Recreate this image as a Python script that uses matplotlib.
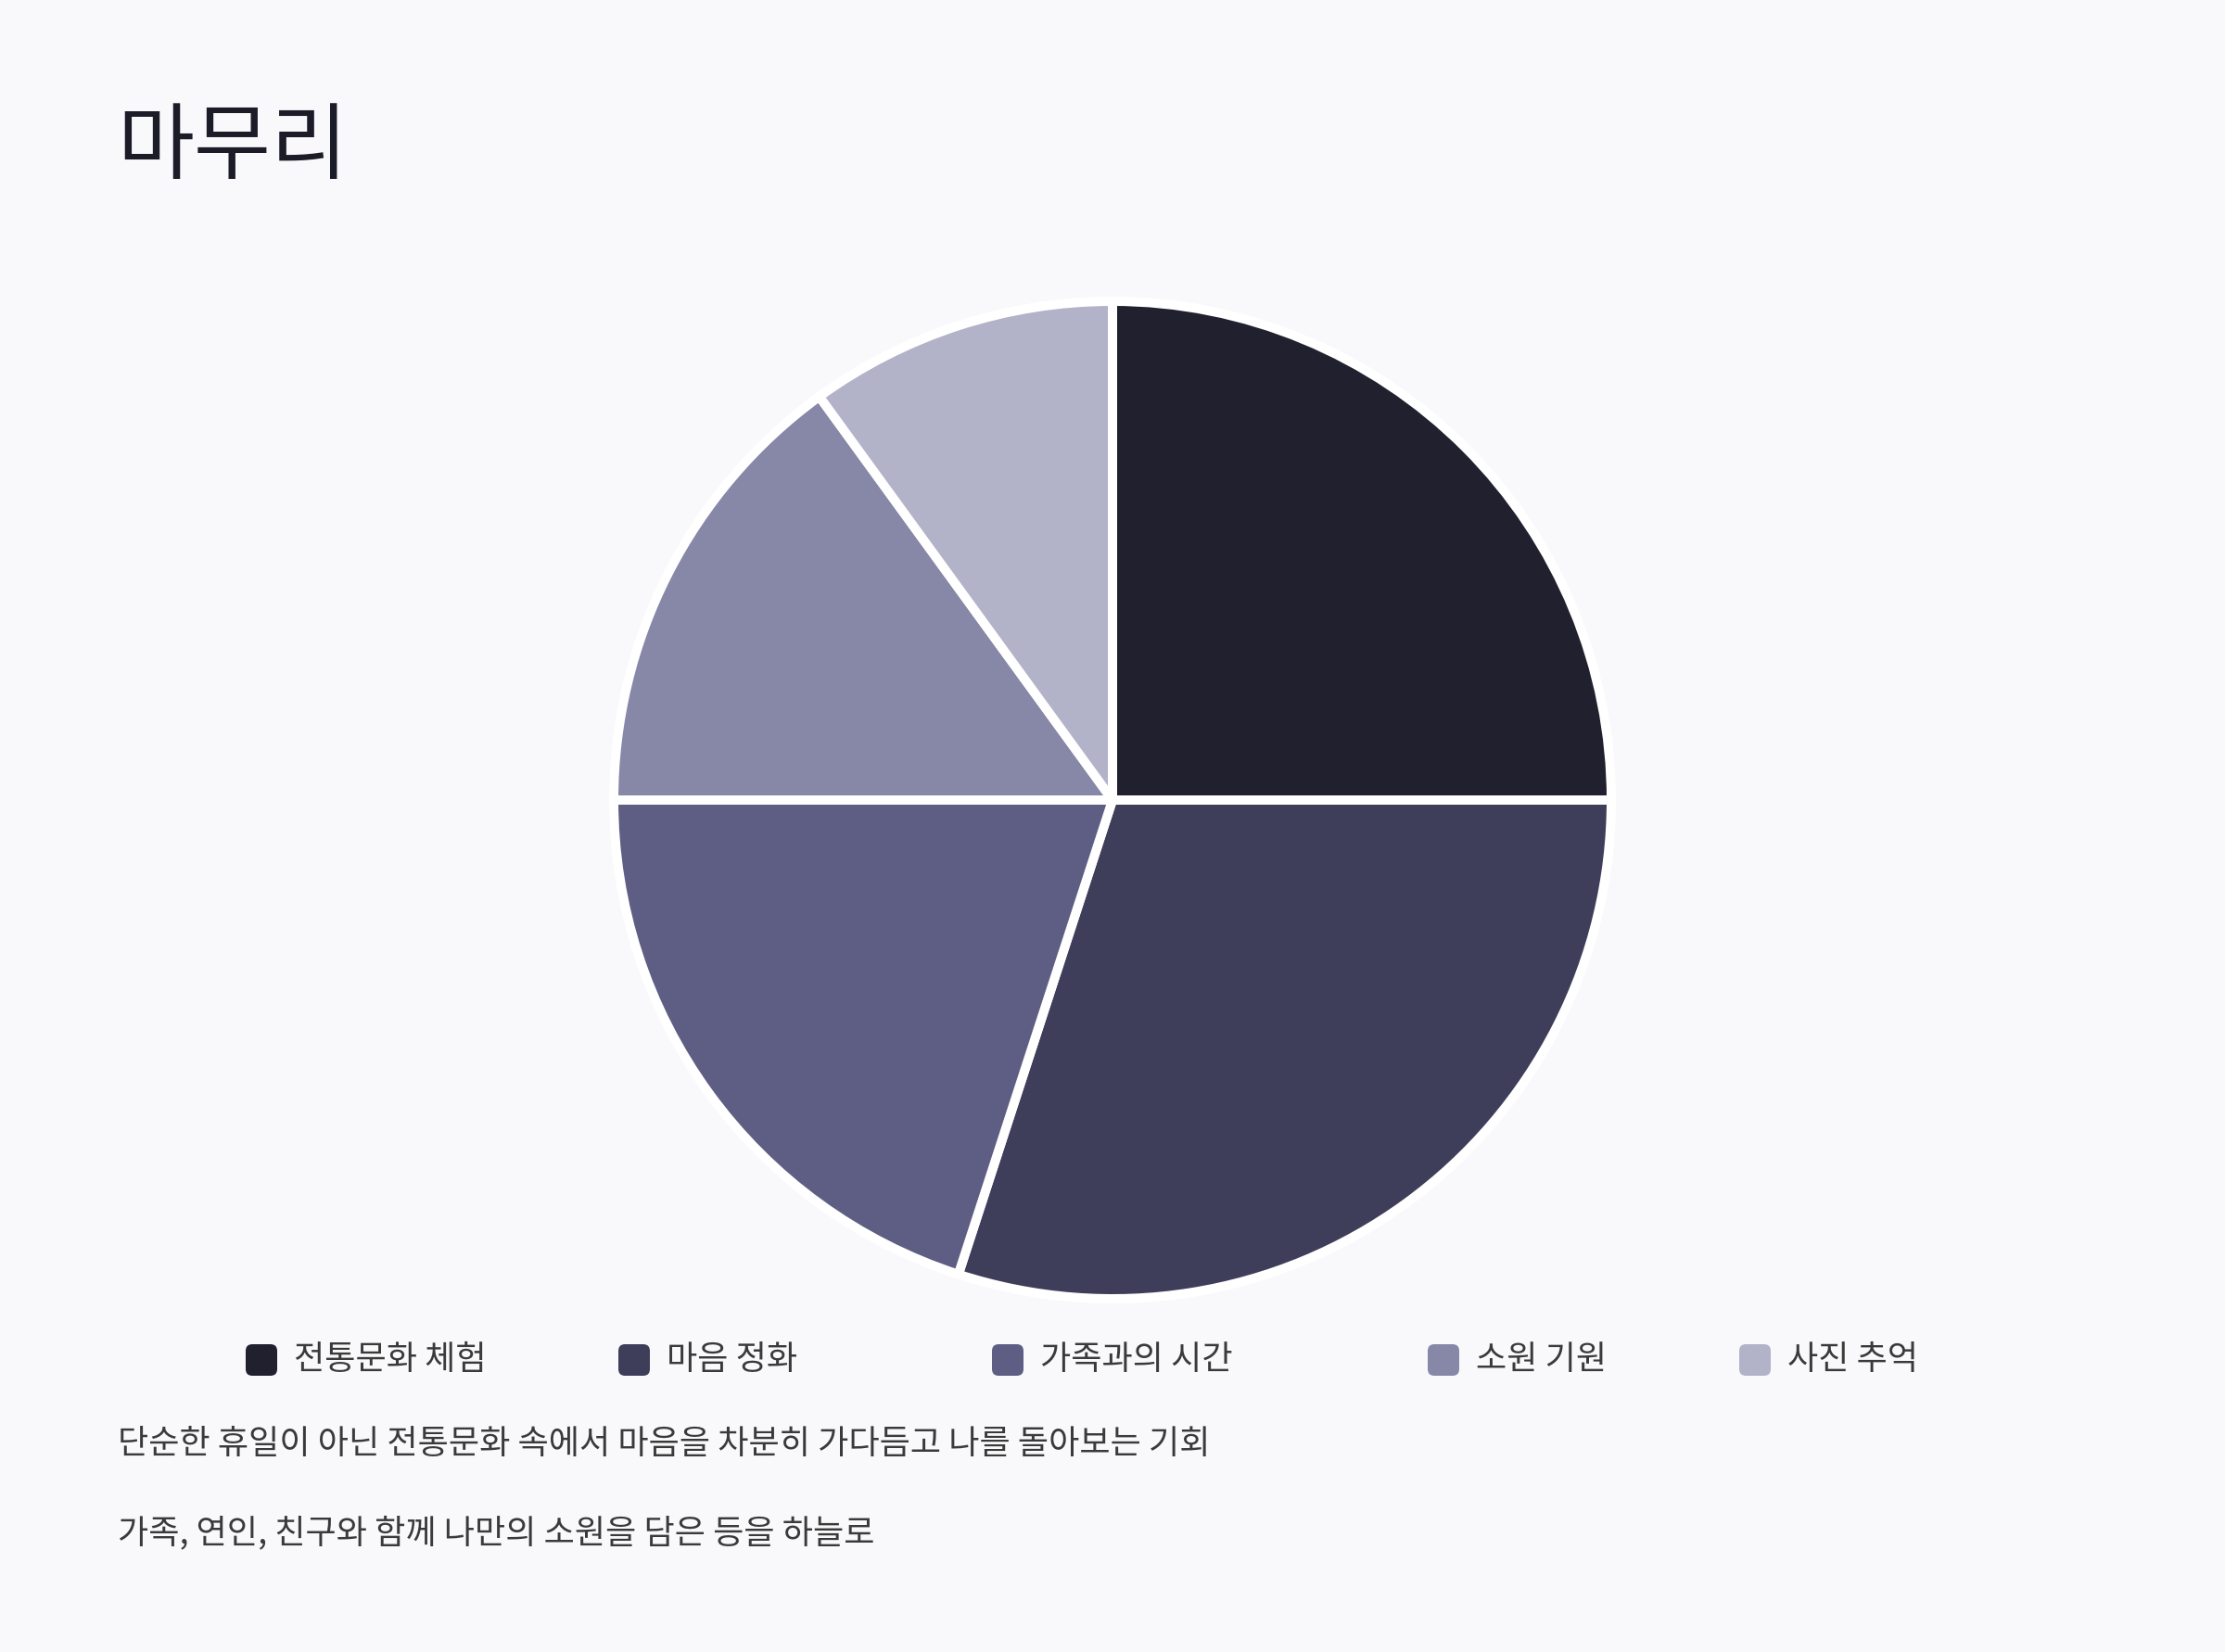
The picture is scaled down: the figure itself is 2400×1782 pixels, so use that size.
import matplotlib
matplotlib.use("Agg")
import matplotlib.pyplot as plt
from matplotlib.patches import FancyBboxPatch

plt.rcParams['font.family'] = ['Noto Sans CJK KR', 'DejaVu Sans']

# ---------------- data ----------------
labels = ["전통문화 체험", "마음 정화", "가족과의 시간", "소원 기원", "사진 추억"]
values = [25, 30, 20, 15, 10]
colors = ["#20202e", "#3e3e5b", "#5e5e84", "#8787a8", "#b2b2c9"]

title = "마무리"
notes = [
    "단순한 휴일이 아닌 전통문화 속에서 마음을 차분히 가다듬고 나를 돌아보는 기회",
    "가족, 연인, 친구와 함께 나만의 소원을 담은 등을 하늘로",
]

# ---------------- figure ----------------
W, H = 2400, 1782
bg = "#f9f9fb"
fig = plt.figure(figsize=(W / 100, H / 100), dpi=100, facecolor=bg)

# pie, centre (1200, 863) px, radius ~538 px
cx, cy, r = 1200, 863, 538
ax = fig.add_axes([(cx - r) / W, (H - cy - r) / H, 2 * r / W, 2 * r / H])
ax.set_facecolor(bg)
ax.pie(values, colors=colors, startangle=90, counterclock=False, radius=1,
       wedgeprops=dict(edgecolor="white", linewidth=7.2, joinstyle="round"))
ax.set_xlim(-1, 1)
ax.set_ylim(-1, 1)
ax.set_aspect("equal")
ax.axis("off")

# title
fig.text(126 / W, 1 - 161 / H, title, fontsize=65, color="#1c1c28",
         ha="left", va="center")

# legend (manual, like the html one)
leg_x = [265, 667, 1070, 1540, 1876]
leg_y = 1467
box = 34
for x, lab, col in zip(leg_x, labels, colors):
    p = FancyBboxPatch(((x) / W, 1 - (leg_y + box / 2) / H), box / W, box / H,
                       boxstyle="round,pad=0,rounding_size=0.003",
                       transform=fig.transFigure, facecolor=col,
                       edgecolor="none", mutation_aspect=W / H)
    fig.patches.append(p)
    fig.text((x + box + 18) / W, 1 - leg_y / H, lab, fontsize=26,
             color="#3a3a3a", ha="left", va="center")

# notes
for i, line in enumerate(notes):
    fig.text(127 / W, 1 - (1558 + i * 96) / H, line, fontsize=26,
             color="#3a3a3a", ha="left", va="center")

fig.savefig("out.png", dpi=100, facecolor=bg)
